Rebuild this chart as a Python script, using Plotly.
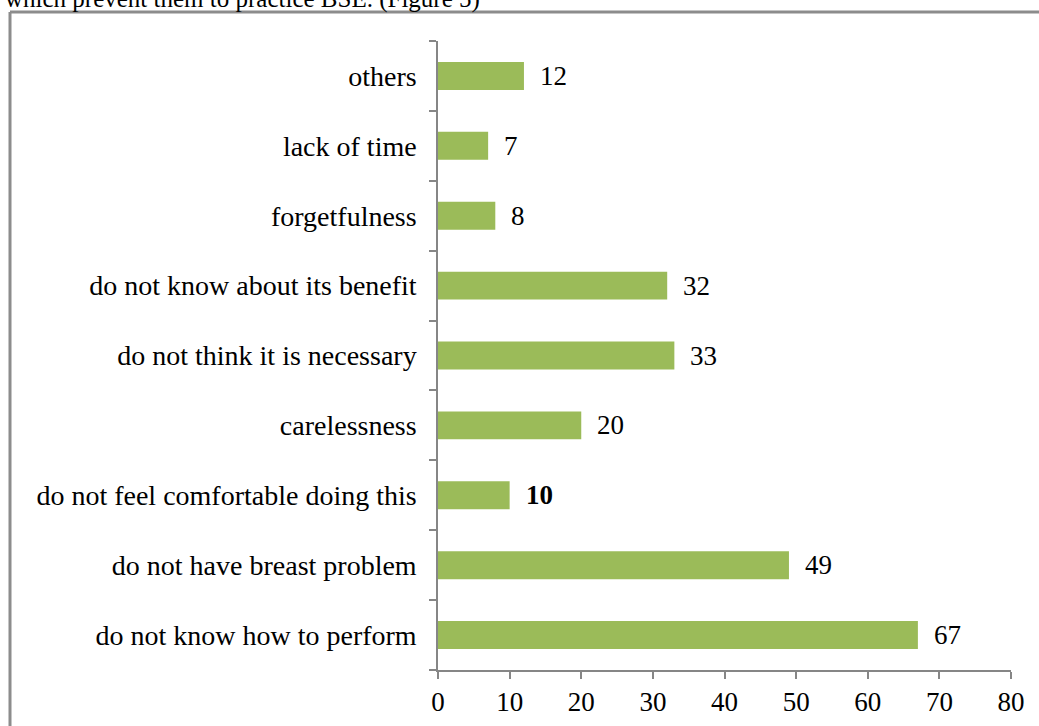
import plotly.graph_objects as go

categories = [
    "do not know how to perform",
    "do not have breast problem",
    "do not feel comfortable doing this",
    "carelessness",
    "do not think it is necessary",
    "do not know about its benefit",
    "forgetfulness",
    "lack of time",
    "others",
]
values = [67, 49, 10, 20, 33, 32, 8, 7, 12]
value_labels = ["67", "49", "<b>10</b>", "20", "33", "32", "8", "7", "12"]
x_ticks = [0, 10, 20, 30, 40, 50, 60, 70, 80]

FONT = "Liberation Serif, Times New Roman, serif"
GRAY = "#868686"

W, H = 1039, 726
L, R, T, B = 438, 28, 41, 56
pw, ph = W - L - R, H - T - B

def px_x(px):
    return (px - L) / pw

def px_y(py):
    return (H - B - py) / ph

fig = go.Figure()
fig.add_trace(go.Bar(
    x=values, y=categories, orientation="h",
    marker=dict(color="#9BBB59", line=dict(width=0)),
    hoverinfo="x+y",
))

for c, v, t in zip(categories, values, value_labels):
    fig.add_annotation(x=v, y=c, text=t, showarrow=False, xanchor="left",
                       xshift=14, font=dict(family=FONT, size=27, color="black"))

# partial caption at top of the clipped document
fig.add_annotation(xref="paper", yref="paper", x=px_x(3), y=px_y(-1), xanchor="left",
                   yanchor="middle", showarrow=False,
                   text="which prevent them to practice BSE. (Figure 5)",
                   font=dict(family=FONT, size=25, color="black"))

# frame
fig.add_shape(type="line", xref="paper", yref="paper", x0=px_x(10), x1=px_x(10),
              y0=px_y(12), y1=px_y(740), line=dict(color="#8c8c8c", width=3))
fig.add_shape(type="line", xref="paper", yref="paper", x0=px_x(10), x1=px_x(1050),
              y0=px_y(12), y1=px_y(12), line=dict(color="#8c8c8c", width=3))

fig.update_layout(
    width=W, height=H,
    margin=dict(l=L, r=R, t=T, b=B, autoexpand=False),
    paper_bgcolor="white", plot_bgcolor="white",
    bargap=0.6,
    showlegend=False,
    font=dict(family=FONT, size=28, color="black"),
    xaxis=dict(range=[0, 80], tickvals=x_ticks, ticktext=[str(t) for t in x_ticks],
               showgrid=False, zeroline=False, showline=True, linecolor=GRAY,
               linewidth=1.5, ticks="outside", ticklen=7, tickcolor=GRAY,
               tickwidth=1.5, tickfont=dict(family=FONT, size=27, color="black")),
    yaxis=dict(type="category", categoryorder="array", categoryarray=categories,
               showgrid=False, zeroline=False, showline=True, linecolor=GRAY,
               linewidth=1.5, ticks="outside", ticklen=7, tickcolor=GRAY,
               tickwidth=1.5, tickson="boundaries", ticklabelstandoff=14,
               tickfont=dict(family=FONT, size=28, color="black")),
)

fig.write_html("out.html")
